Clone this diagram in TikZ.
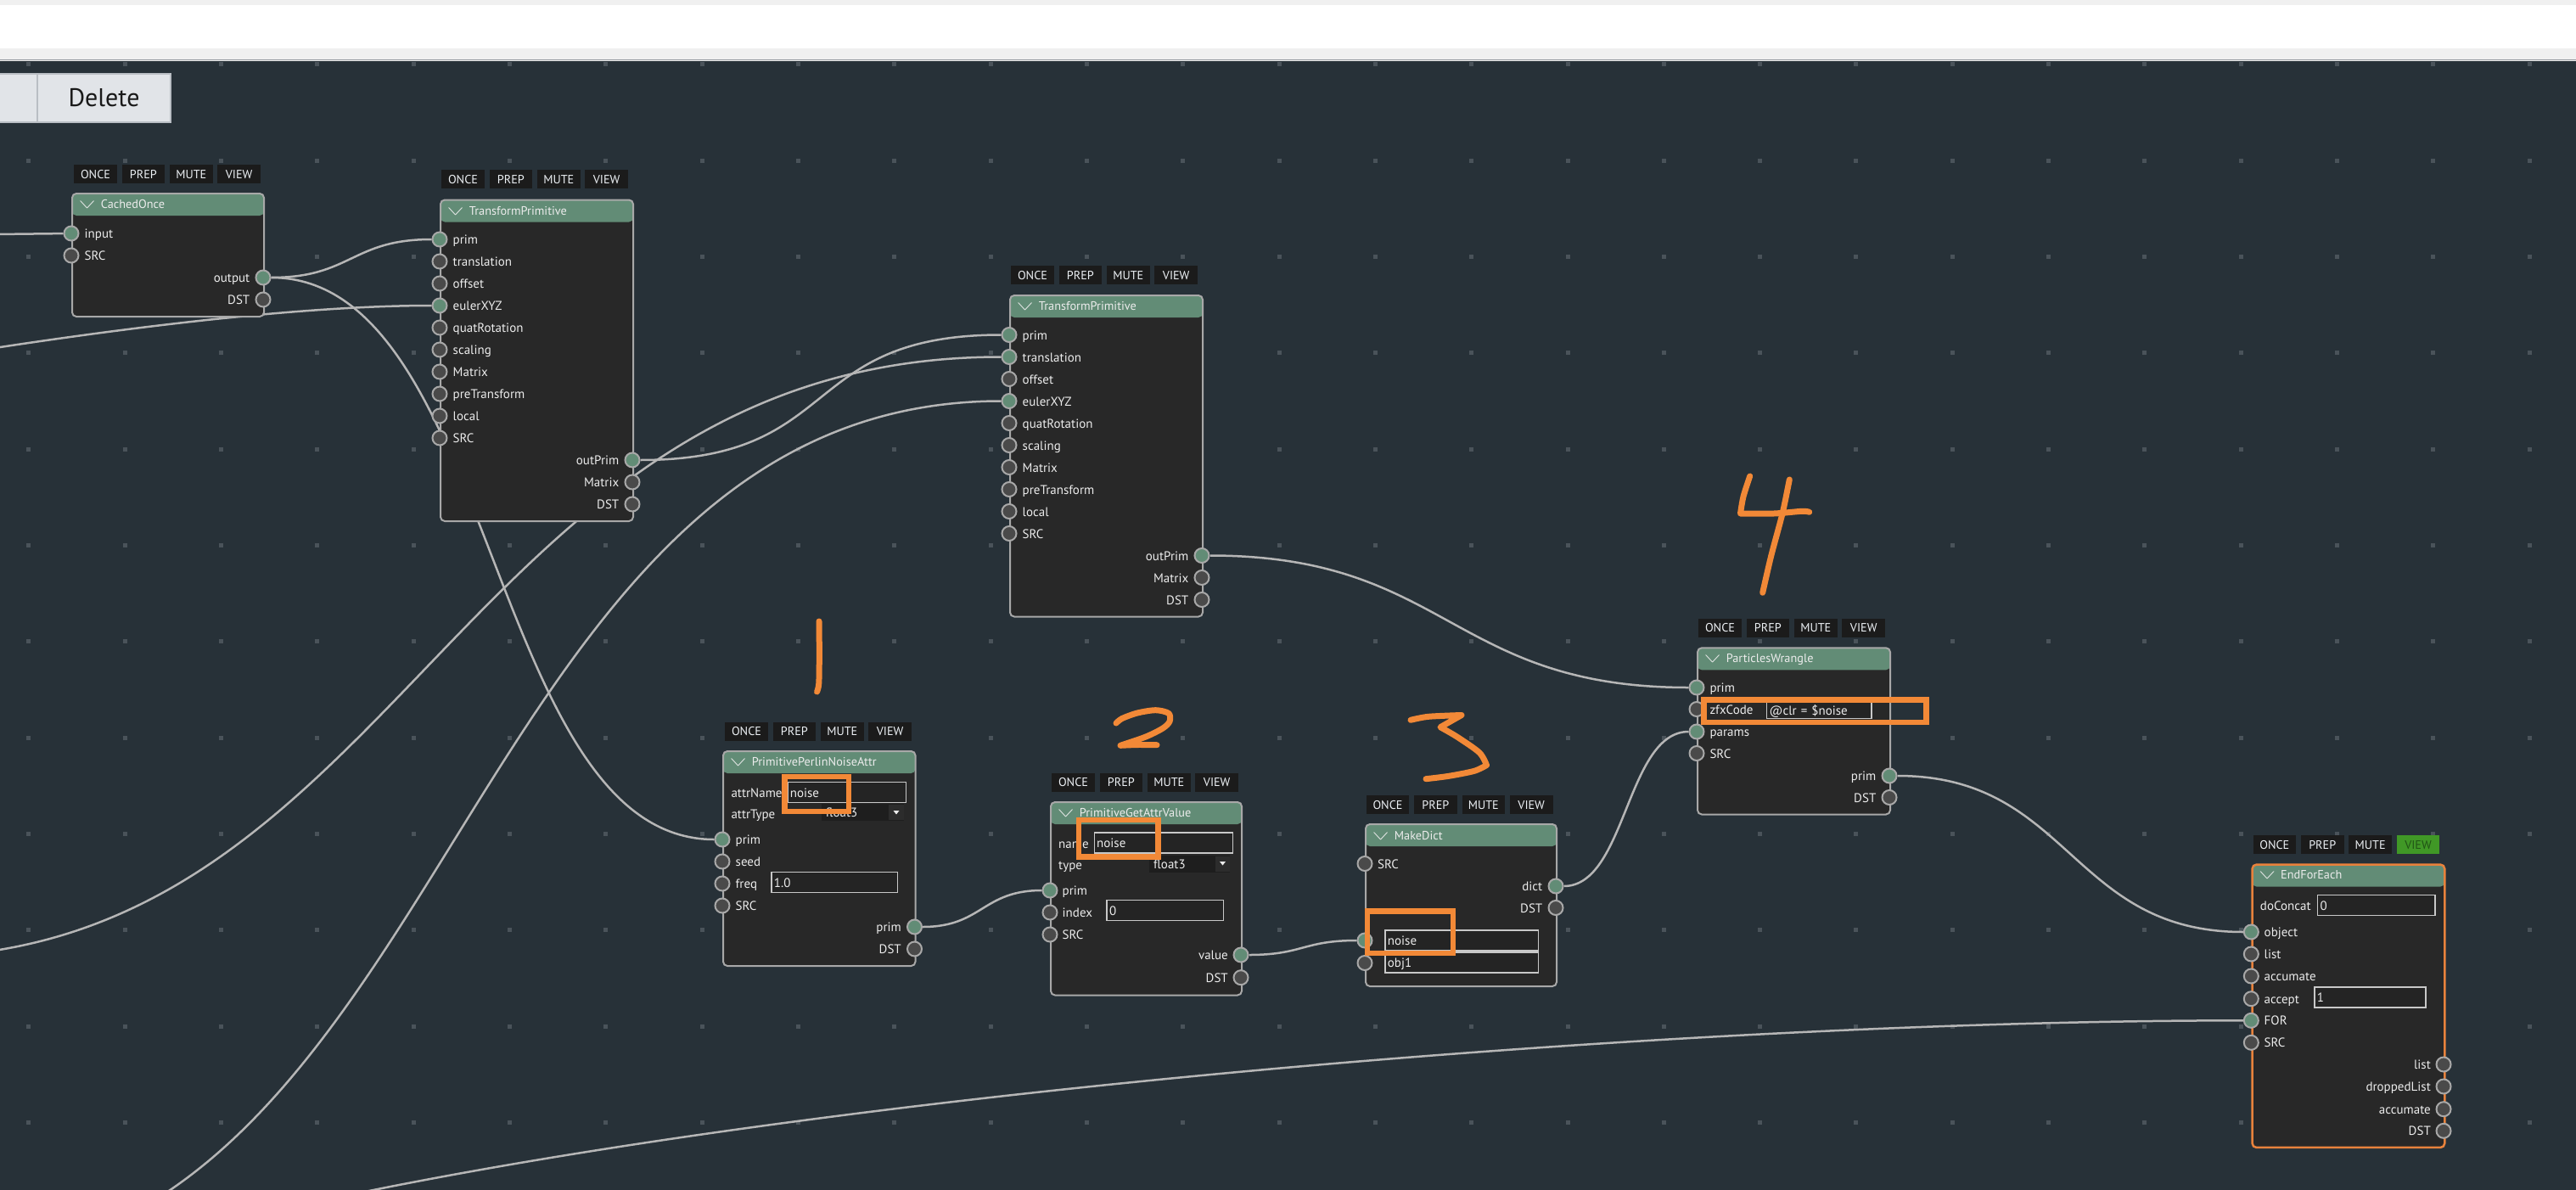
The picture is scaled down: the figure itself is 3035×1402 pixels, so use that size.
\documentclass[tikz,border=0pt]{standalone}
\usepackage{fontspec}
\setmainfont{PT Sans}
\usepackage{tikz}

\definecolor{canvasbg}{RGB}{39,49,56}
\definecolor{griddot}{RGB}{74,83,90}
\definecolor{topgray}{RGB}{240,240,240}
\definecolor{topline}{RGB}{150,154,160}
\definecolor{btngray}{RGB}{225,228,232}
\definecolor{btnline}{RGB}{185,190,196}
\definecolor{nodebody}{RGB}{40,40,40}
\definecolor{nodehead}{RGB}{98,140,118}
\definecolor{nodeframe}{RGB}{168,168,168}
\definecolor{sockdark}{RGB}{74,74,74}
\definecolor{cablegray}{RGB}{182,182,182}
\definecolor{btnblack}{RGB}{27,27,27}
\definecolor{btntext}{RGB}{236,240,244}
\definecolor{viewgreen}{RGB}{64,152,38}
\definecolor{viewtext}{RGB}{33,84,22}
\definecolor{labelwhite}{RGB}{236,236,236}
\definecolor{fieldbg}{RGB}{36,36,36}
\definecolor{fieldline}{RGB}{200,200,200}
\definecolor{dropbg}{RGB}{30,30,30}
\definecolor{dropbtn}{RGB}{44,44,44}
\definecolor{markorange}{RGB}{242,137,55}
\definecolor{efeorange}{RGB}{232,130,60}

\pgfdeclarelayer{canvas}
\pgfdeclarelayer{wires}
\pgfsetlayers{canvas,wires,main}

\newcommand{\chev}{\scalebox{2.1}[1]{$\vee$}\hspace{6pt}}

\tikzset{
  zbox/.style={draw=nodeframe, line width=2pt, fill=nodebody, rounded corners=5pt,
    anchor=north west, inner sep=0pt,
    path picture={\fill[nodehead] (path picture bounding box.north west) rectangle ([yshift=-26pt]path picture bounding box.north east);}},
  ttl/.style={text=labelwhite, font=\fontsize{14.3}{15}\selectfont, inner sep=0pt, text height=11pt, text depth=0pt, anchor=west},
  lbl/.style={text=labelwhite, font=\fontsize{15}{15}\selectfont, inner sep=0pt, text height=11pt, text depth=0pt, anchor=west},
  btn/.style={fill=btnblack, text=btntext, font=\fontsize{14.2}{14}\selectfont, minimum width=50.6pt, minimum height=22pt,
    inner sep=0pt, text height=10pt, text depth=0pt, anchor=west},
  uibtn/.style={fill=btngray, draw=btnline, line width=1.5pt, minimum width=157pt, minimum height=57pt,
    font=\fontsize{30}{30}\selectfont, text=black!90, text height=21pt, text depth=0pt},
  sockg/.style={circle, fill=nodehead, draw=nodeframe, line width=2pt, minimum size=17pt, inner sep=0pt},
  sockd/.style={circle, fill=sockdark, draw=nodeframe, line width=2pt, minimum size=17pt, inner sep=0pt},
  field/.style={draw=fieldline, line width=1.2pt, fill=fieldbg, text=labelwhite, font=\fontsize{15}{15}\selectfont,
    inner xsep=3pt, inner ysep=0pt, minimum height=24pt, text height=11pt, text depth=0pt, anchor=west, align=left},
  dropbox/.style={fill=dropbg, text=labelwhite, font=\fontsize{15}{15}\selectfont,
    inner xsep=5pt, inner ysep=0pt, minimum height=20pt, text height=11pt, text depth=0pt, anchor=west, align=left},
  cable/.style={draw=cablegray, line width=2.5pt},
  handmark/.style={draw=markorange, line width=7pt, line cap=round, line join=round},
  markbox/.style={draw=markorange, line width=6.5pt, line join=miter}
}

\begin{document}
\begin{tikzpicture}[x=1pt,y=-1pt]
        \useasboundingbox (0,0) rectangle (3035,1402);

        % Draw the window and the grid
        \begin{pgfonlayer}{canvas}
                \fill[topgray] (0,0) rectangle (3035,72);
                \fill[white] (0,5.7) rectangle (3035,56.7);
                \draw[topline, line width=1.2pt] (0,70.6) -- (3035,70.6);
                \fill[canvasbg] (0,72) rectangle (3035,1402);
                \foreach \i in {0,...,26}
                        \foreach \j in {0,...,11}
                                \fill[griddot] ({31.2+113.33*\i},{73.5+113.33*\j}) rectangle ++(5,5);
        \end{pgfonlayer}

        % Define buttons
        \node[uibtn] (back) at (-29,115.5) {};
        \node[uibtn] (delete) at (122.5,115.5) {Delete};

        % Define nodes
        % CachedOnce
        \foreach \b [count=\i from 0] in {ONCE,PREP,MUTE,VIEW}
                \node[btn] (co-\b) at (87+56.4*\i,205) {\b};
        \node[zbox, minimum width=226pt, minimum height=145pt] (co) at (84,227) {};
        \node[ttl] (co-t) at (92.5,240) {\chev CachedOnce};
        \foreach \y/\t/\s in {275/input/sockg, 301/SRC/sockd} {
                \node[\s] (co-in-\t) at (84,\y) {};
                \node[lbl] (co-in-\t-l) at (99.5,\y) {\t};
        }
        \foreach \y/\t/\s in {327/output/sockg, 353/DST/sockd} {
                \node[\s] (co-out-\t) at (310,\y) {};
                \node[lbl, anchor=east] (co-out-\t-l) at (294.5,\y) {\t};
        }

        % TransformPrimitive (first)
        \foreach \b [count=\i from 0] in {ONCE,PREP,MUTE,VIEW}
                \node[btn] (tpa-\b) at (520+56.4*\i,211) {\b};
        \node[zbox, minimum width=227pt, minimum height=378.5pt] (tpa) at (518,234.5) {};
        \node[ttl] (tpa-t) at (526.5,247.5) {\chev TransformPrimitive};
        \foreach \y/\t/\s in {282/prim/sockg, 308/translation/sockd, 334/offset/sockd, 360/eulerXYZ/sockg,
                386/quatRotation/sockd, 412/scaling/sockd, 438/Matrix/sockd, 464/preTransform/sockd,
                490/local/sockd, 516/SRC/sockd} {
                \node[\s] (tpa-in-\t) at (518,\y) {};
                \node[lbl] (tpa-in-\t-l) at (533.5,\y) {\t};
        }
        \foreach \y/\t/\s in {542/outPrim/sockg, 568/Matrix/sockd, 594/DST/sockd} {
                \node[\s] (tpa-out-\t) at (745,\y) {};
                \node[lbl, anchor=east] (tpa-out-\t-l) at (729.5,\y) {\t};
        }

        % TransformPrimitive (second)
        \foreach \b [count=\i from 0] in {ONCE,PREP,MUTE,VIEW}
                \node[btn] (tpb-\b) at (1191+56.4*\i,324.3) {\b};
        \node[zbox, minimum width=227pt, minimum height=378.5pt] (tpb) at (1189,347) {};
        \node[ttl] (tpb-t) at (1197.5,360) {\chev TransformPrimitive};
        \foreach \y/\t/\s in {394.5/prim/sockg, 420.5/translation/sockg, 446.5/offset/sockd, 472.5/eulerXYZ/sockg,
                498.5/quatRotation/sockd, 524.5/scaling/sockd, 550.5/Matrix/sockd, 576.5/preTransform/sockd,
                602.5/local/sockd, 628.5/SRC/sockd} {
                \node[\s] (tpb-in-\t) at (1189,\y) {};
                \node[lbl] (tpb-in-\t-l) at (1204.5,\y) {\t};
        }
        \foreach \y/\t/\s in {654.5/outPrim/sockg, 680.5/Matrix/sockd, 706.5/DST/sockd} {
                \node[\s] (tpb-out-\t) at (1416,\y) {};
                \node[lbl, anchor=east] (tpb-out-\t-l) at (1400.5,\y) {\t};
        }

        % PrimitivePerlinNoiseAttr
        \foreach \b [count=\i from 0] in {ONCE,PREP,MUTE,VIEW}
                \node[btn] (pna-\b) at (854+56.4*\i,861.7) {\b};
        \node[zbox, minimum width=226.5pt, minimum height=253pt] (pna) at (851,884) {};
        \node[ttl] (pna-t) at (859.5,897) {\chev PrimitivePerlinNoiseAttr};
        \node[lbl] (pna-attrName-l) at (861.3,934.3) {attrName};
        \node[field, text width=133.4pt] (pna-attrName) at (927.3,933.7) {noise};
        \node[lbl] (pna-attrType-l) at (861.3,959) {attrType};
        \node[dropbox, text width=87.3pt] (pna-attrType) at (967.7,957.3) {float3};
        \fill[dropbtn] (1047,948.3) rectangle (1065,966.3);
        \fill[labelwhite] (1052.5,955) -- (1059.5,955) -- (1056,959.5) -- cycle;
        \foreach \y/\t/\s in {989/prim/sockg, 1015/seed/sockd, 1041/freq/sockd, 1067/SRC/sockd} {
                \node[\s] (pna-in-\t) at (851,\y) {};
                \node[lbl] (pna-in-\t-l) at (866.5,\y) {\t};
        }
        \node[field, text width=142.4pt] (pna-freq) at (908.3,1039.5) {1.0};
        \foreach \y/\t/\s in {1092/prim/sockg, 1118/DST/sockd} {
                \node[\s] (pna-out-\t) at (1077.5,\y) {};
                \node[lbl, anchor=east] (pna-out-\t-l) at (1062,\y) {\t};
        }

        % PrimitiveGetAttrValue
        \foreach \b [count=\i from 0] in {ONCE,PREP,MUTE,VIEW}
                \node[btn] (gav-\b) at (1239+56.4*\i,921.7) {\b};
        \node[zbox, minimum width=225pt, minimum height=227.5pt] (gav) at (1237,944) {};
        \node[ttl] (gav-t) at (1245.5,957) {\chev PrimitiveGetAttrValue};
        \node[lbl] (gav-name-l) at (1247,994) {name};
        \node[field, text width=157.4pt] (gav-name) at (1288.6,993) {noise};
        \node[lbl] (gav-type-l) at (1247,1019) {type};
        \node[dropbox, text width=85pt] (gav-type) at (1354,1017.5) {float3};
        \fill[dropbtn] (1432,1008.5) rectangle (1449,1026.5);
        \fill[labelwhite] (1437,1015) -- (1444,1015) -- (1440.5,1019.5) -- cycle;
        \foreach \y/\t/\s in {1049/prim/sockg, 1075/index/sockd, 1101/SRC/sockd} {
                \node[\s] (gav-in-\t) at (1237,\y) {};
                \node[lbl] (gav-in-\t-l) at (1251.5,\y) {\t};
        }
        \node[field, text width=131.3pt] (gav-index) at (1303.4,1072.7) {0};
        \foreach \y/\t/\s in {1125/value/sockg, 1151.7/DST/sockd} {
                \node[\s] (gav-out-\t) at (1462,\y) {};
                \node[lbl, anchor=east] (gav-out-\t-l) at (1447,\y) {\t};
        }

        % MakeDict
        \foreach \b [count=\i from 0] in {ONCE,PREP,MUTE,VIEW}
                \node[btn] (md-\b) at (1609.5+56.4*\i,948) {\b};
        \node[zbox, minimum width=225pt, minimum height=191pt] (md) at (1608,970) {};
        \node[ttl] (md-t) at (1616.5,983.5) {\chev MakeDict};
        \node[sockd] (md-in-SRC) at (1608,1017.5) {};
        \node[lbl] (md-in-SRC-l) at (1623,1017.5) {SRC};
        \foreach \y/\t/\s in {1044/dict/sockg, 1069.5/DST/sockd} {
                \node[\s] (md-out-\t) at (1833,\y) {};
                \node[lbl, anchor=east] (md-out-\t-l) at (1817.5,\y) {\t};
        }
        \node[sockg] (md-in-noise) at (1608,1108) {};
        \node[field, text width=174.7pt] (md-noise) at (1631.3,1108) {noise};
        \node[sockd] (md-in-obj1) at (1608,1134.5) {};
        \node[field, text width=174.7pt] (md-obj1) at (1631.3,1134) {obj1};

        % ParticlesWrangle
        \foreach \b [count=\i from 0] in {ONCE,PREP,MUTE,VIEW}
                \node[btn] (pw-\b) at (2001+56.4*\i,739.5) {\b};
        \node[zbox, minimum width=227pt, minimum height=196.2pt] (pw) at (1999,762.3) {};
        \node[ttl] (pw-t) at (2007.5,775.3) {\chev ParticlesWrangle};
        \foreach \y/\t/\s in {810/prim/sockg, 835.5/zfxCode/sockd, 862/params/sockg, 887.5/SRC/sockd} {
                \node[\s] (pw-in-\t) at (1999,\y) {};
                \node[lbl] (pw-in-\t-l) at (2014.3,\y) {\t};
        }
        \node[field, text width=117.3pt, minimum height=19pt] (pw-zfxCode) at (2081,837) {@clr = \$noise};
        \foreach \y/\t/\s in {914/prim/sockg, 939.5/DST/sockd} {
                \node[\s] (pw-out-\t) at (2226,\y) {};
                \node[lbl, anchor=east] (pw-out-\t-l) at (2210.5,\y) {\t};
        }

        % EndForEach
        \foreach \b [count=\i from 0] in {ONCE,PREP,MUTE}
                \node[btn] (efe-\b) at (2654.3+56.4*\i,995) {\b};
        \node[btn, fill=viewgreen, text=viewtext] (efe-VIEW) at (2823.5,995) {VIEW};
        \node[zbox, draw=efeorange, line width=2.5pt, minimum width=226.7pt, minimum height=333.4pt] (efe) at (2652.3,1017.3) {};
        \node[ttl] (efe-t) at (2660.8,1030.3) {\chev EndForEach};
        \node[lbl] (efe-doConcat-l) at (2662.7,1066.7) {doConcat};
        \node[field, text width=132.3pt] (efe-doConcat) at (2730,1066.5) {0};
        \foreach \y/\t/\s in {1098/object/sockg, 1124/list/sockd, 1150/accumate/sockd, 1176.7/accept/sockd,
                1202.3/FOR/sockg, 1228.3/SRC/sockd} {
                \node[\s] (efe-in-\t) at (2652.3,\y) {};
                \node[lbl] (efe-in-\t-l) at (2667.5,\y) {\t};
        }
        \node[field, text width=125pt] (efe-accept) at (2726.3,1175) {1};
        \foreach \y/\t/\s in {1254/list/sockd, 1280/droppedList/sockd, 1306.7/accumate/sockd, 1332.3/DST/sockd} {
                \node[\s] (efe-out-\t) at (2879,\y) {};
                \node[lbl, anchor=east] (efe-out-\t-l) at (2864,\y) {\t};
        }

        % Draw links
        \begin{pgfonlayer}{wires}
                \coordinate (edge-a) at (-5,276);
                \coordinate (edge-b) at (-5,409.8);
                \coordinate (edge-c) at (196,1405);
                \coordinate (edge-d) at (-5,1119.7);
                \coordinate (edge-e) at (425,1405);
                \draw[cable] (edge-a) -- (co-in-input);
                \draw[cable] (edge-b) .. controls (200,378.6) and (380,360) .. (tpa-in-eulerXYZ);
                \draw[cable] (co-out-output) .. controls +(104,0) and +(-104,0) .. (tpa-in-prim);
                \draw[cable] (co-out-output) .. controls +(275,0) and +(-275,0) .. (pna-in-prim);
                \draw[cable] (tpa-out-outPrim) .. controls +(250,0) and +(-250,0) .. (tpb-in-prim);
                \draw[cable] (edge-d) .. controls (483,1042) and (582,420.5) .. (tpb-in-translation);
                \draw[cable] (edge-c) .. controls (556,1165) and (651,472.5) .. (tpb-in-eulerXYZ);
                \draw[cable] (tpb-out-outPrim) .. controls +(290,0) and +(-290,0) .. (pw-in-prim);
                \draw[cable] (pna-out-prim) .. controls +(80,0) and +(-80,0) .. (gav-in-prim);
                \draw[cable] (gav-out-value) .. controls +(73,0) and +(-73,0) .. (md-in-noise);
                \draw[cable] (md-out-dict) .. controls +(83,0) and +(-83,0) .. (pw-in-params);
                \draw[cable] (pw-out-prim) .. controls +(213,0) and +(-213,0) .. (efe-in-object);
                \draw[cable] (edge-e) .. controls (1028,1282) and (2000,1202.3) .. (efe-in-FOR);
        \end{pgfonlayer}

        % Draw the marks
        \draw[markbox] (924.3,915) rectangle (1000,956);
        \draw[markbox] (1271,966) rectangle (1364.4,1009.4);
        \draw[markbox] (1611,1073.5) rectangle (1712,1123);
        \draw[markbox] (2007.3,824.3) rectangle (2269.4,851);
        \draw[handmark] plot[smooth] coordinates {(965,732) (965.3,770) (964.8,805) (962.5,815)};
        \draw[handmark] plot[smooth] coordinates {(1315,852) (1322,846.5) (1340,840) (1361.7,836.7) (1377,840.5) (1378,850) (1370,858) (1350,868) (1320,878.3)}
                -- plot[smooth] coordinates {(1320,878.3) (1340,877.5) (1363,877.7)};
        \draw[handmark] plot[smooth] coordinates {(1662,848.3) (1683,844.3) (1722,842.5)} -- (1697,856.7)
                -- plot[smooth] coordinates {(1697,856.7) (1717,868.3) (1743,886.7) (1751.5,901.5)}
                -- plot[smooth] coordinates {(1751.5,901.5) (1737,908.3) (1707,914.3) (1680,917.7)};
        \draw[handmark] plot[smooth] coordinates {(2061.7,561) (2054,585) (2050.5,605)}
                -- plot[smooth] coordinates {(2050.5,605) (2090,605) (2123,602.3) (2131.7,603.3)};
        \draw[handmark] plot[smooth] coordinates {(2108.3,565) (2100,605) (2086.7,655) (2076.7,698.3)};
\end{tikzpicture}
\end{document}
